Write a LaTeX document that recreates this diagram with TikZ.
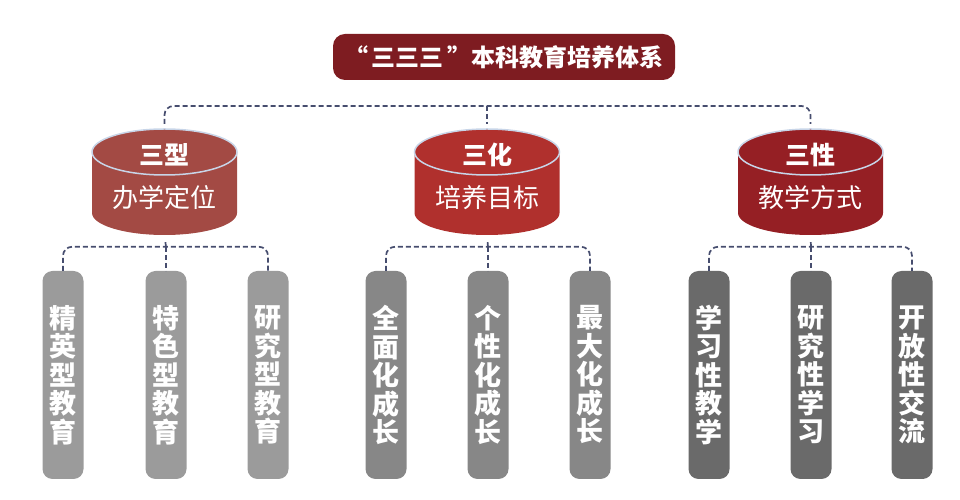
\documentclass[tikz,border=0pt]{standalone}
\usepackage{fontspec}
\newfontfamily\cjk{Noto Sans CJK SC}
\usetikzlibrary{positioning}

\definecolor{titlered}{HTML}{7E1C21}
\definecolor{cylA}{HTML}{A34A44}
\definecolor{cylB}{HTML}{B0302D}
\definecolor{cylC}{HTML}{951F24}
\definecolor{barA}{HTML}{9B9B9B}
\definecolor{barB}{HTML}{878787}
\definecolor{barC}{HTML}{6A6A6A}
\definecolor{linkblue}{HTML}{464D6E}
\definecolor{rimblue}{HTML}{C8D5E8}

\tikzset{
  link/.style={draw=linkblue, line width=1.7pt, dash pattern=on 5pt off 3pt},
  rim/.style={draw=rimblue, line width=1.5pt},
  titlebox/.style={fill=titlered, rounded corners=12pt, minimum width=342pt, minimum height=46pt,
    inner sep=0pt, text=white, font=\cjk\bfseries\fontsize{24}{26}\selectfont},
  cylhead/.style={text=white, font=\cjk\bfseries\fontsize{25}{27}\selectfont},
  cyltext/.style={text=white, font=\cjk\fontsize{26}{28}\selectfont},
  bar/.style={rounded corners=10pt, minimum width=41pt, minimum height=208pt, inner sep=0pt,
    text=white, align=center, font=\cjk\bfseries\fontsize{27}{28.5}\selectfont}
}

\begin{document}
\begin{tikzpicture}[x=1pt, y=1pt]
\useasboundingbox (0,0) rectangle (960,500);

\node[titlebox] (title) at (504,443) {“\,三三三\,”本科教育培养体系};

% cylinders
\foreach \n/\x/\c/\h/\t in {type/164.5/cylA/三型/办学定位, goal/487/cylB/三化/培养目标, mode/810.5/cylC/三性/教学方式} {
  \fill[\c] (\x-72.5,348) -- (\x-72.5,287) arc[start angle=180, end angle=360, x radius=72.5, y radius=22]
    -- (\x+72.5,348) -- cycle;
  \draw[rim, fill=\c] (\x,348) ellipse [x radius=72.5, y radius=23];
  \node[cylhead] at (\x,345) {\h};
  \node[cyltext] at (\x,302) {\t};
  \node[inner sep=0pt, minimum width=145pt, minimum height=106pt] (\n) at (\x,318) {};
}

% bars
\node[bar, fill=barA] (type1) at (63,125) {精\\英\\型\\教\\育};
\node[bar, fill=barA] (type2) at (166,125) {特\\色\\型\\教\\育};
\node[bar, fill=barA] (type3) at (268,125) {研\\究\\型\\教\\育};
\node[bar, fill=barB] (goal1) at (386,125) {全\\面\\化\\成\\长};
\node[bar, fill=barB] (goal2) at (488,125) {个\\性\\化\\成\\长};
\node[bar, fill=barB] (goal3) at (590,125) {最\\大\\化\\成\\长};
\node[bar, fill=barC] (mode1) at (709,125) {学\\习\\性\\教\\学};
\node[bar, fill=barC] (mode2) at (811,125) {研\\究\\性\\学\\习};
\node[bar, fill=barC] (mode3) at (912,125) {开\\放\\性\\交\\流};

% connectors
\coordinate (top) at (487,394);
\draw[link, rounded corners=9pt, shorten <=5pt, shorten >=5pt] (type.north) |- (top) -| (mode.north);
\draw[link, shorten >=5pt] (top) -- (goal.north);

\foreach \g in {type, goal, mode} {
  \path (\g2.north) ++(0,24) coordinate (\g j);
  \draw[link, rounded corners=9pt] (\g1.north) |- (\g j) -| (\g3.north);
  \draw[link] (\g j) -- (\g2.north);
  \draw[link, shorten <=7pt] (\g.south) -- (\g j);
}
\end{tikzpicture}
\end{document}
